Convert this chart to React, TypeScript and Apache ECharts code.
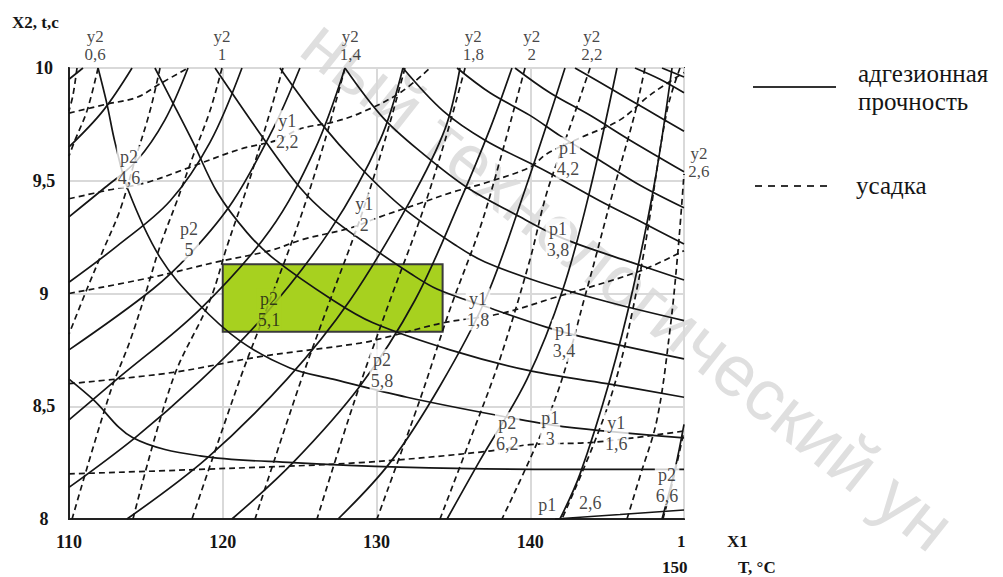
import React, { useEffect, useRef } from "react";
import * as echarts from "echarts";

// ---- axis ticks ----
const xTicks = [110, 120, 130, 140, 150];
const yTicks = [8, 8.5, 9, 9.5, 10];

// ---- solid curves (адгезионная прочность): descending family ----
const dP1_26 = [[141.61, 8.0], [145.84, 8.02], [150, 8.04]];
const dP2_66 = [[110, 8.62], [111.56, 8.53], [114.16, 8.36], [118.52, 8.28], [124.57, 8.25], [131.53, 8.23], [141.93, 8.22], [150, 8.22]];
const d1 = [[111.89, 10], [112.47, 9.84], [112.99, 9.67], [113.84, 9.46], [115.92, 9.16], [118.33, 8.96], [121.12, 8.79], [124.37, 8.67], [127.17, 8.62], [131.98, 8.54], [137.84, 8.46], [142.13, 8.41], [150, 8.36]];
const d2 = [[115.59, 10], [116.57, 9.87], [118.07, 9.67], [119.63, 9.45], [121.58, 9.27], [123.4, 9.15], [127.17, 8.97], [129.77, 8.87], [134.78, 8.75], [139.79, 8.66], [144.99, 8.6], [150, 8.54]];
const d3 = [[119.5, 10], [122.42, 9.71], [125.02, 9.47], [126.98, 9.34], [129.58, 9.21], [132.18, 9.09], [133.93, 9.02], [137.19, 8.94], [141.09, 8.85], [143.24, 8.81], [150, 8.71]];
const d4 = [[123.72, 10], [126.33, 9.76], [128.93, 9.56], [131.72, 9.38], [135.24, 9.21], [137.06, 9.14], [140.63, 9.05], [145.19, 8.96], [150, 8.88]];
const d5 = [[127.95, 10], [130.42, 9.78], [133.02, 9.62], [135.89, 9.47], [139.33, 9.34], [141.28, 9.27], [143.04, 9.22], [146.49, 9.14], [150, 9.06]];
const d6 = [[131.72, 10], [134.33, 9.81], [137.06, 9.68], [141.09, 9.54], [144.54, 9.41], [147.14, 9.32], [150, 9.22]];
const d7 = [[135.24, 10], [137.38, 9.89], [139.98, 9.79], [141.93, 9.7], [144.54, 9.59], [147.14, 9.48], [150, 9.38]];
const d8 = [[139.01, 10], [141.28, 9.89], [143.89, 9.79], [146.49, 9.68], [150, 9.54]];
const d9 = [[142.91, 10], [145.19, 9.91], [147.46, 9.82], [150, 9.72]];
const d10 = [[146.81, 10], [148.44, 9.95], [150, 9.89]];
const d11 = [[148.57, 10], [150, 9.96]];

// ---- solid curves: ascending family ----
const a1 = [[110, 9.95], [110.91, 10]];
const a2 = [[110, 9.65], [112.21, 9.81], [114.1, 10]];
const a3 = [[110, 9.34], [112.34, 9.47], [114.42, 9.59], [116.24, 9.77], [117.74, 10]];
const a4 = [[110, 9.05], [113.12, 9.21], [116.57, 9.41], [119.17, 9.67], [121.25, 10]];
const a5 = [[110, 8.75], [115.46, 9.02], [118.07, 9.19], [120.67, 9.41], [123.27, 9.73], [125.02, 10]];
const a6 = [[110, 8.44], [113.12, 8.62], [118.52, 8.93], [123.07, 9.28], [126.0, 9.64], [127.95, 10]];
const a7 = [[110, 8.14], [114.29, 8.36], [118.33, 8.6], [122.42, 8.88], [126.98, 9.28], [130.23, 9.68], [131.72, 10]];
const a8 = [[113.77, 8.0], [118.98, 8.27], [124.18, 8.62], [128.28, 8.97], [132.18, 9.41], [134.46, 9.73], [135.43, 10]];
const a9 = [[120.6, 8.0], [124.57, 8.25], [128.93, 8.59], [132.5, 8.97], [135.43, 9.41], [137.38, 9.73], [138.81, 10]];
const a10 = [[127.5, 8.0], [130.88, 8.25], [134.13, 8.59], [137.06, 8.97], [139.66, 9.46], [142.26, 10]];
const a11 = [[134.59, 8.0], [136.73, 8.26], [139.79, 8.62], [142.13, 9.02], [143.89, 9.46], [145.64, 10]];
const a12 = [[141.93, 8.0], [143.24, 8.2], [145.19, 8.62], [146.68, 9.02], [148.11, 9.5], [149.22, 10]];
const a13 = [[148.57, 8.0], [149.41, 8.22], [150, 8.42]];

// ---- dashed curves (усадка): y1 family ----
const y1_24 = [[110, 9.8], [112.47, 9.84], [114.42, 9.87], [115.92, 9.93], [117.74, 10]];
const y1_22 = [[110, 9.42], [112.67, 9.46], [114.94, 9.49], [117.87, 9.56], [121.12, 9.64], [123.53, 9.68], [125.02, 9.73], [127.17, 9.76], [128.93, 9.8], [131.53, 9.89], [133.48, 10]];
const y1_20 = [[110, 9.0], [115.27, 9.07], [119.63, 9.14], [123.07, 9.19], [125.22, 9.24], [128.28, 9.29], [130.23, 9.34], [132.83, 9.4], [134.98, 9.45], [137.06, 9.49], [139.98, 9.56], [141.09, 9.62], [143.24, 9.69], [145.84, 9.77], [147.79, 9.88], [150, 9.98]];
const y1_18 = [[110, 8.6], [116.76, 8.65], [122.42, 8.72], [128.93, 8.78], [130.88, 8.81], [134.33, 8.87], [138.03, 8.91], [141.48, 8.98], [147.14, 9.1], [150, 9.19]];
const y1_16 = [[110, 8.2], [118.52, 8.22], [128.93, 8.25], [137.19, 8.3], [139.98, 8.33], [144.08, 8.34], [150, 8.39]];

// ---- dashed curves: y2 family ----
const y2_04 = [[110.52, 10], [110.26, 9.88], [110, 9.81]];
const y2_06 = [[111.89, 10], [111.17, 9.81], [110.39, 9.68], [110, 9.61]];
const y2_08 = [[115.92, 10], [115.27, 9.81], [114.29, 9.59], [113.32, 9.37], [112.21, 9.19], [111.17, 9.02], [110, 8.82]];
const y2_10 = [[119.95, 10], [119.17, 9.81], [118.07, 9.61], [117.02, 9.41], [115.92, 9.21], [115.07, 9.02], [113.97, 8.79], [112.67, 8.56], [110.2, 8.0]];
const y2_12 = [[123.92, 10], [122.75, 9.73], [121.58, 9.47], [120.28, 9.21], [119.17, 8.97], [116.76, 8.62], [114.16, 8.0]];
const y2_14 = [[127.95, 10], [126.65, 9.68], [125.02, 9.33], [123.07, 8.97], [121.12, 8.62], [118.0, 8.0]];
const y2_16 = [[131.85, 10], [130.55, 9.68], [128.93, 9.33], [126.98, 8.97], [125.02, 8.6], [122.1, 8.0]];
const y2_18 = [[135.76, 10], [134.46, 9.68], [132.83, 9.33], [130.88, 8.97], [128.6, 8.53], [126.13, 8.0]];
const y2_20 = [[139.66, 10], [138.03, 9.59], [136.73, 9.29], [134.78, 8.93], [132.83, 8.53], [130.03, 8.0]];
const y2_22 = [[143.89, 10], [142.59, 9.74], [141.09, 9.45], [139.98, 9.15], [138.03, 8.71], [136.08, 8.35], [134.13, 8.0]];
const y2_24 = [[147.46, 10], [146.81, 9.8], [145.38, 9.45], [143.69, 9.02], [141.61, 8.53], [138.16, 8.0]];
const y2_26a = [[149.74, 10], [148.89, 9.81], [147.14, 9.09], [145.19, 8.53], [142.06, 8.0]];
const y2_26 = [[146.29, 8.0], [147.14, 8.19], [148.24, 8.44], [149.09, 8.84], [149.61, 9.19], [150, 9.53]];
const y2_28 = [[148.63, 8.0], [149.28, 8.17], [150, 8.39]];

// ---- highlighted optimum region ----
const boxX = [120, 134.3];
const boxY = [8.83, 9.13];

// ---- curve labels [x, y, text] ----
const curveLabels: [number, number, string][] = [
  [113.9, 9.56, "p2\n4,6"],
  [117.8, 9.24, "p2\n5"],
  [130.35, 8.66, "p2\n5,8"],
  [138.5, 8.38, "p2\n6,2"],
  [141.3, 8.4, "p1\n3"],
  [145.6, 8.38, "y1\n1,6"],
  [148.9, 8.15, "p2\n6,6"],
  [141.1, 8.06, "p1"],
  [143.9, 8.07, "2,6"],
  [142.2, 8.79, "p1\n3,4"],
  [141.8, 9.24, "p1\n3,8"],
  [142.45, 9.6, "p1\n4,2"],
  [124.2, 9.72, "y1\n2,2"],
  [129.2, 9.35, "y1\n2"],
  [136.6, 8.93, "y1\n1,8"],
];
const boxLabels: [number, number, string][] = [[123.0, 8.93, "p2\n5,1"]];
const y2TopX = [111.7, 119.95, 128.3, 136.3, 140.1, 144.0];
const y2TopText = ["y2\n0,6", "y2\n1", "y2\n1,4", "y2\n1,8", "y2\n2", "y2\n2,2"];
const y2SideLabels: [number, number, string][] = [[150.97, 9.58, "y2\n2,6"]];

const solidCurves = [dP1_26, dP2_66, d1, d2, d3, d4, d5, d6, d7, d8, d9, d10, d11, a1, a2, a3, a4, a5, a6, a7, a8, a9, a10, a11, a12, a13];
const dashedCurves = [y1_24, y1_22, y1_20, y1_18, y1_16, y2_04, y2_06, y2_08, y2_10, y2_12, y2_14, y2_16, y2_18, y2_20, y2_22, y2_24, y2_26a, y2_26, y2_28];

const SERIF = '"Liberation Serif", "DejaVu Serif", serif';
const INK = "#151515";

export default function App() {
  const ref = useRef<HTMLDivElement>(null);
  useEffect(() => {
    if (!ref.current) return;
    const chart = echarts.init(ref.current, null, { renderer: "svg" });
    const lineSeries = (data: number[][], dashed: boolean) => ({
      type: "line",
      data,
      smooth: 0.35,
      symbol: "none",
      silent: true,
      z: 3,
      lineStyle: { color: INK, width: 1.7, type: dashed ? [6, 4] : "solid" },
    });
    const labelStyle = (bg: string) => ({
      show: true,
      position: "inside",
      formatter: (p: any) => p.value[2],
      color: INK,
      fontFamily: SERIF,
      fontSize: 18,
      lineHeight: 21,
      backgroundColor: bg,
      padding: [0, 1],
    });
    const option: any = {
      animation: false,
      backgroundColor: "#ffffff",
      grid: { left: 69, top: 68, right: 319, bottom: 58, show: true, borderColor: "#333", borderWidth: 2 },
      xAxis: {
        type: "value",
        min: xTicks[0],
        max: xTicks[xTicks.length - 1],
        interval: 10,
        axisLine: { show: true, onZero: false, lineStyle: { color: "#222", width: 2 } },
        axisTick: { show: false },
        splitLine: { show: true, lineStyle: { color: "#d9d9d9", width: 2 } },
        axisLabel: {
          formatter: (v: number) => (v === 150 ? "" : String(v)),
          fontFamily: SERIF,
          fontSize: 18,
          fontWeight: "bold",
          color: INK,
          margin: 14,
        },
      },
      yAxis: {
        type: "value",
        min: yTicks[0],
        max: yTicks[yTicks.length - 1],
        interval: 0.5,
        axisLine: { show: true, onZero: false, lineStyle: { color: "#222", width: 2 } },
        axisTick: { show: false },
        splitLine: { show: true, lineStyle: { color: "#d9d9d9", width: 2 } },
        axisLabel: {
          formatter: (v: number) => String(v).replace(".", ","),
          fontFamily: SERIF,
          fontSize: 18,
          fontWeight: "bold",
          color: INK,
          align: "center",
          margin: 25,
        },
      },
      series: [
        {
          type: "line",
          data: [[boxX[0], boxY[0]]],
          symbol: "none",
          silent: true,
          z: 1,
          lineStyle: { opacity: 0 },
          markArea: {
            silent: true,
            itemStyle: { color: "#a7d11f", borderColor: "#3a3a3a", borderWidth: 2 },
            data: [[{ xAxis: boxX[0], yAxis: boxY[1] }, { xAxis: boxX[1], yAxis: boxY[0] }]],
          },
        },
        ...solidCurves.map((c) => lineSeries(c, false)),
        ...dashedCurves.map((c) => lineSeries(c, true)),
        {
          type: "scatter",
          data: curveLabels.map((l) => [l[0], l[1], l[2]]),
          symbolSize: 1,
          itemStyle: { color: "rgba(0,0,0,0)" },
          silent: true,
          z: 10,
          label: labelStyle("#ffffff"),
        },
        {
          type: "scatter",
          data: boxLabels.map((l) => [l[0], l[1], l[2]]),
          symbolSize: 1,
          itemStyle: { color: "rgba(0,0,0,0)" },
          silent: true,
          z: 10,
          label: labelStyle("#a7d11f"),
        },
        {
          type: "scatter",
          data: y2TopX.map((x, i) => [x, 10, y2TopText[i]]),
          symbolSize: 1,
          clip: false,
          itemStyle: { color: "rgba(0,0,0,0)" },
          silent: true,
          z: 10,
          label: {
            show: true,
            position: "top",
            distance: 4,
            formatter: (p: any) => p.value[2],
            color: INK,
            fontFamily: SERIF,
            fontSize: 17,
            lineHeight: 18,
            align: "center",
          },
        },
        {
          type: "scatter",
          data: y2SideLabels.map((l) => [l[0], l[1], l[2]]),
          symbolSize: 1,
          clip: false,
          itemStyle: { color: "rgba(0,0,0,0)" },
          silent: true,
          z: 10,
          label: { ...labelStyle("transparent"), fontSize: 17, lineHeight: 18 },
        },
      ],
      graphic: [
        {
          type: "text",
          x: 312,
          y: 34,
          rotation: -0.67,
          z: 0,
          silent: true,
          style: {
            text: "ный технологический ун",
            fill: "rgba(140,140,140,0.28)",
            font: '72px "Liberation Sans", sans-serif',
            textVerticalAlign: "middle",
          },
        },
        { type: "text", x: 12, y: 14, style: { text: "X2, t,c", fill: INK, font: `bold 17px ${SERIF}` } },
        { type: "text", x: 727, y: 533, style: { text: "X1", fill: INK, font: `bold 17px ${SERIF}` } },
        { type: "text", x: 677, y: 533, style: { text: "1", fill: INK, font: `bold 17px ${SERIF}` } },
        { type: "text", x: 662, y: 559, style: { text: "150", fill: INK, font: `bold 17px ${SERIF}` } },
        { type: "text", x: 738, y: 559, style: { text: "T, °C", fill: INK, font: `bold 17px ${SERIF}` } },
        { type: "line", shape: { x1: 753, y1: 87, x2: 836, y2: 87 }, style: { stroke: "#333", lineWidth: 2 } },
        { type: "line", shape: { x1: 755, y1: 186, x2: 832, y2: 186 }, style: { stroke: "#333", lineWidth: 2, lineDash: [7, 6] } },
        { type: "text", x: 858, y: 61, style: { text: "адгезионная", fill: INK, font: `25px ${SERIF}` } },
        { type: "text", x: 858, y: 89, style: { text: "прочность", fill: INK, font: `25px ${SERIF}` } },
        { type: "text", x: 856, y: 173, style: { text: "усадка", fill: INK, font: `25px ${SERIF}` } },
      ],
    };
    chart.setOption(option);
    return () => chart.dispose();
  }, []);
  return (
    <div
      ref={ref}
      style={{ position: "fixed", left: 0, top: 0, width: 1003, height: 577, background: "#fff" }}
    />
  );
}
